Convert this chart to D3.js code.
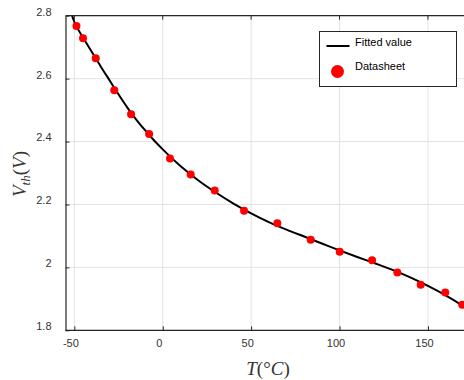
<!DOCTYPE html>
<html>
<head>
<meta charset="utf-8">
<script src="https://cdn.jsdelivr.net/npm/d3@7"></script>
<style>
  html, body { margin: 0; padding: 0; background: #fff; }
  svg { display: block; }
</style>
</head>
<body>
<svg id="chart" width="464" height="380"></svg>
<script>
// Datasheet points (temperature in °C, threshold voltage in V)
const sheetT = [-48.8, -45.1, -37.9, -27.4, -17.9, -7.7, 4.1, 15.8, 29.4, 46.0, 64.8, 83.7, 100.1, 118.4, 132.7, 145.9, 159.8, 169.4];
const sheetV = [2.767, 2.728, 2.665, 2.563, 2.487, 2.424, 2.346, 2.295, 2.244, 2.180, 2.140, 2.088, 2.050, 2.023, 1.984, 1.945, 1.920, 1.881];

// Fitted curve
const fitT = [-52, -50, -45, -40, -35, -30, -25, -20, -15, -10, -5, 0, 10, 20, 30, 40, 50, 60, 70, 80, 90, 100, 110, 120, 130, 140, 150, 160, 170, 176];
const fitV = [2.812, 2.780, 2.730, 2.684, 2.638, 2.594, 2.550, 2.508, 2.470, 2.436, 2.404, 2.375, 2.322, 2.277, 2.238, 2.203, 2.172, 2.144, 2.120, 2.098, 2.076, 2.054, 2.033, 2.013, 1.992, 1.968, 1.941, 1.911, 1.877, 1.855];

const xTicks = [-50, 0, 50, 100, 150];
const yTicks = [1.8, 2, 2.2, 2.4, 2.6, 2.8];

const svg = d3.select("#chart");
const plotLeft = 65.5, plotTop = 15.7, plotBottom = 330.3, plotRight = 464;

const x = d3.scaleLinear().domain([-55, 175]).range([plotLeft, plotLeft + 230 * 1.768]);
const y = d3.scaleLinear().domain([1.8, 2.8]).range([plotBottom, plotTop]);

const axisColor = "#262626";
const gridColor = "#e3e3e3";

const defs = svg.append("defs");
defs.append("clipPath").attr("id", "plot-clip")
  .append("rect").attr("x", plotLeft).attr("y", plotTop).attr("width", plotRight - plotLeft).attr("height", plotBottom - plotTop);

// Grid
const grid = svg.append("g");
grid.selectAll("line.gx").data(xTicks).join("line")
  .attr("class", "gx")
  .attr("x1", (d) => x(d)).attr("x2", (d) => x(d))
  .attr("y1", plotTop).attr("y2", plotBottom)
  .attr("stroke", gridColor).attr("stroke-width", 1);
grid.selectAll("line.gy").data(yTicks).join("line")
  .attr("class", "gy")
  .attr("x1", plotLeft).attr("x2", plotRight)
  .attr("y1", (d) => y(d)).attr("y2", (d) => y(d))
  .attr("stroke", gridColor).attr("stroke-width", 1);

// Fitted curve
const plot = svg.append("g").attr("clip-path", "url(#plot-clip)");
const line = d3.line().x((d) => x(d[0])).y((d) => y(d[1])).curve(d3.curveMonotoneX);
plot.append("path")
  .datum(d3.zip(fitT, fitV))
  .attr("d", line)
  .attr("fill", "none")
  .attr("stroke", "#000")
  .attr("stroke-width", 2);

// Datasheet points
plot.selectAll("circle").data(d3.zip(sheetT, sheetV)).join("circle")
  .attr("cx", (d) => x(d[0])).attr("cy", (d) => y(d[1]))
  .attr("r", 4)
  .attr("fill", "#ff0000");

// Axes (ticks point inward)
const xAxis = svg.append("g").attr("transform", `translate(0,${plotBottom})`)
  .call(d3.axisBottom(x).tickValues(xTicks).tickSizeInner(-4).tickSizeOuter(0).tickPadding(9).tickFormat((d) => String(d)));
const yAxis = svg.append("g").attr("transform", `translate(${plotLeft},0)`)
  .call(d3.axisLeft(y).tickValues(yTicks).tickSizeInner(-4).tickSizeOuter(0).tickPadding(14).tickFormat((d) => String(d)));

[xAxis, yAxis].forEach((a) => {
  a.select(".domain").attr("stroke", axisColor).attr("stroke-width", 1.2);
  a.selectAll(".tick line").attr("stroke", axisColor);
  a.selectAll(".tick text").attr("fill", "#333").attr("font-family", "Liberation Sans, Arial, sans-serif").attr("font-size", 11);
});
xAxis.select(".domain").attr("d", `M${plotLeft},0H${plotRight}`);
xAxis.selectAll(".tick text").attr("dx", -4);
yAxis.selectAll(".tick text").attr("dy", "-0.05em");

// Top border with inward ticks
svg.append("line").attr("x1", plotLeft).attr("x2", plotRight).attr("y1", plotTop).attr("y2", plotTop)
  .attr("stroke", axisColor).attr("stroke-width", 1.2);
svg.selectAll("line.top-tick").data(xTicks).join("line")
  .attr("class", "top-tick")
  .attr("x1", (d) => x(d)).attr("x2", (d) => x(d))
  .attr("y1", plotTop).attr("y2", plotTop + 4)
  .attr("stroke", axisColor);

// Axis labels
const serif = "Liberation Serif, DejaVu Serif, serif";
const xl = svg.append("text").attr("x", 268).attr("y", 375)
  .attr("text-anchor", "middle").attr("font-family", serif).attr("font-size", 19).attr("fill", "#333");
xl.append("tspan").attr("font-style", "italic").text("T");
xl.append("tspan").text("(°");
xl.append("tspan").attr("font-style", "italic").text("C");
xl.append("tspan").text(")");

const yl = svg.append("text").attr("transform", "translate(26,174) rotate(-90)")
  .attr("text-anchor", "middle").attr("font-family", serif).attr("font-size", 19).attr("fill", "#333");
yl.append("tspan").attr("font-style", "italic").text("V");
yl.append("tspan").attr("font-style", "italic").attr("font-size", 13).attr("dy", 4).text("th");
yl.append("tspan").attr("dy", -4).text("(");
yl.append("tspan").attr("font-style", "italic").text("V");
yl.append("tspan").text(")");

// Legend
const legend = svg.append("g").attr("transform", "translate(319.5,31.5)");
legend.append("rect").attr("width", 137).attr("height", 55)
  .attr("fill", "#fff").attr("stroke", axisColor).attr("stroke-width", 1);
legend.append("line").attr("x1", 7).attr("x2", 30).attr("y1", 14.5).attr("y2", 14.5)
  .attr("stroke", "#000").attr("stroke-width", 2);
legend.append("circle").attr("cx", 18).attr("cy", 40).attr("r", 6.5).attr("fill", "#ff0000");
const legendLabels = ["Fitted value", "Datasheet"];
legend.selectAll("text").data(legendLabels).join("text")
  .attr("x", 35.5).attr("y", (d, i) => 14.5 + i * 24)
  .attr("font-family", "Liberation Sans, Arial, sans-serif").attr("font-size", 11)
  .attr("fill", "#000")
  .text((d) => d);
</script>
</body>
</html>
